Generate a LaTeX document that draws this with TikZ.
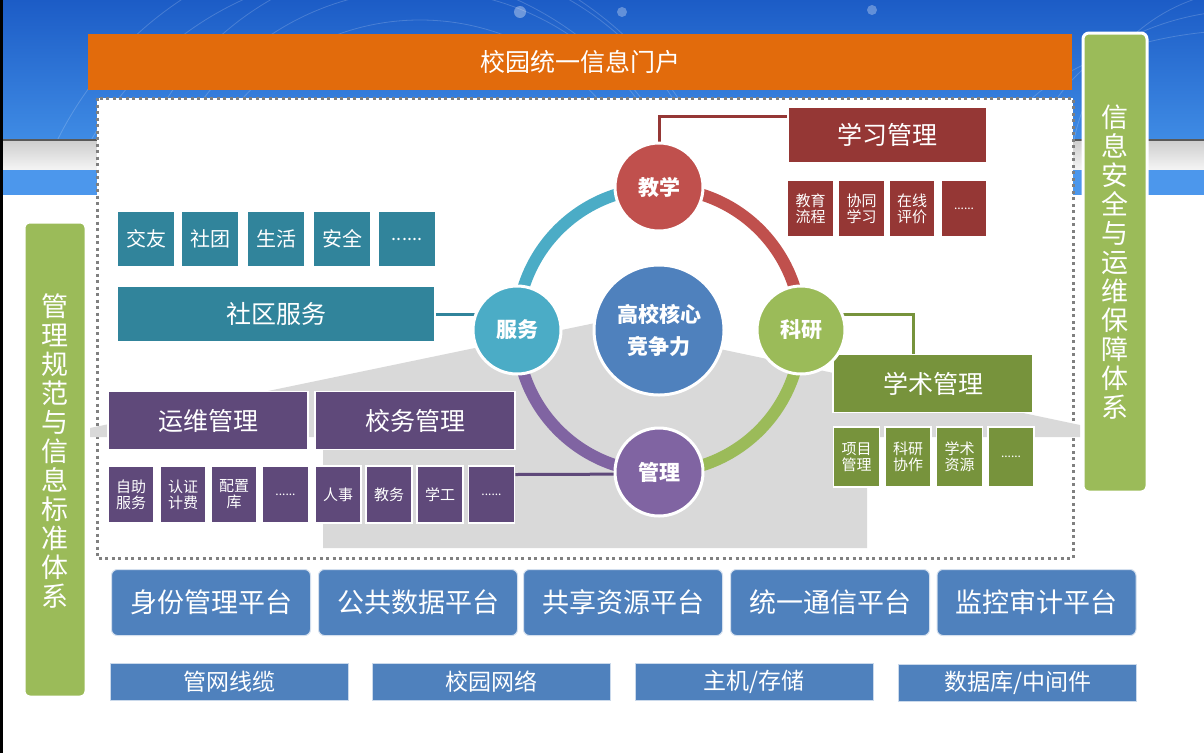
\documentclass[tikz,border=0pt]{standalone}
\usepackage{fontspec}
\setmainfont{Noto Sans CJK SC}
\usepackage{xcolor}
\definecolor{bgdark}{HTML}{1C5CC6}
\definecolor{bgmid}{HTML}{3F8BE4}
\definecolor{bglight}{HTML}{4C97EC}
\definecolor{portalorange}{HTML}{E26B0C}
\definecolor{sidegreen}{HTML}{9BBB59}
\definecolor{framegray}{HTML}{808080}
\definecolor{housegray}{HTML}{D9D9D9}
\definecolor{serviceteal}{HTML}{31849B}
\definecolor{managepurple}{HTML}{5F497A}
\definecolor{studyred}{HTML}{953735}
\definecolor{researchgreen}{HTML}{77933C}
\definecolor{platblue}{HTML}{4F81BD}
\definecolor{hubred}{HTML}{C0504D}
\definecolor{hubgreen}{HTML}{9BBB59}
\definecolor{hubpurple}{HTML}{8064A2}
\definecolor{hubteal}{HTML}{4BACC6}
\tikzset{
  portal/.style={fill=portalorange, text=white, minimum width=984pt, minimum height=56pt, inner sep=0pt, font=\fontsize{25}{30}\selectfont},
  sidebar/.style={fill=sidegreen, draw=white, line width=3pt, rounded corners=6pt, text=white, align=center, inner sep=0pt, font=\fontsize{27}{29}\selectfont},
  frame/.style={draw=framegray, fill=white, line width=3pt, dash pattern=on 3pt off 3.5pt},
  glow/.style={white, opacity=0.18, line width=0.8pt},
  tile/.style={draw=white, line width=1.5pt, text=white, inner sep=0pt, align=center},
  headtile/.style={tile, minimum width=200pt, minimum height=58pt, font=\fontsize{25}{30}\selectfont},
  smalltile/.style={tile, minimum width=46pt, minimum height=57pt, font=\fontsize{15}{16}\selectfont},
  hub/.style={circle, draw=white, line width=3pt, text=white, minimum size=88pt, inner sep=0pt, align=center, font=\bfseries\fontsize{21}{32}\selectfont},
  ring/.style={line width=12pt},
  link/.style={line width=3pt},
  platform/.style={fill=platblue, draw=white!75!platblue, line width=1pt, rounded corners=6pt, text=white, minimum width=199pt, minimum height=66pt, font=\fontsize{27}{30}\selectfont},
  base/.style={fill=platblue, draw=white!70!platblue, line width=1pt, text=white, minimum width=238pt, minimum height=37pt, font=\fontsize{23}{26}\selectfont}
}

\begin{document}
\begin{tikzpicture}[x=1pt, y=-1pt]
\useasboundingbox (0,0) rectangle (1204,753);
% background of the slide
\fill[white] (0,0) rectangle (1204,753);
\shade[top color=bgdark, bottom color=bgmid] (0,0) rectangle (1204,139);
\begin{scope}
\clip (0,0) rectangle (1204,139);
\draw[glow] (420,260) circle (240);
\draw[glow] (420,260) circle (270);
\draw[glow] (420,260) circle (300);
\draw[glow] (380,300) circle (330);
\draw[glow] (380,300) circle (360);
\draw[glow] (1250,180) ellipse (260 and 150);
\draw[glow] (1250,180) ellipse (220 and 170);
\draw[glow] (1250,180) ellipse (180 and 190);
\fill[white, opacity=0.35] (520,12) circle (6);
\fill[white, opacity=0.3] (872,10) circle (5);
\fill[white, opacity=0.3] (622,12) circle (5);
\end{scope}
\shade[top color=black!20, bottom color=white!96!black] (0,139) rectangle (1204,170);
\draw[black!65, line width=2pt] (0,140) -- (1204,140);
\fill[bglight] (0,170) rectangle (1204,195);
\fill[black] (0,0) rectangle (3,753);

\node[portal] (portal) at (580,62) {校园统一信息门户};
\node[sidebar, minimum width=64pt, minimum height=459pt] (security) at (1115,262.5) {信\\息\\安\\全\\与\\运\\维\\保\\障\\体\\系};
\node[sidebar, minimum width=62pt, minimum height=475pt] (norms) at (55,459.5) {管\\理\\规\\范\\与\\信\\息\\标\\准\\体\\系\\[-10pt]};

\draw[frame] (97,98) rectangle (1073,558);
\fill[housegray] (90,428) -- (600,322) -- (715,348) -- (1080,425) -- (1080,437) -- (867,437) -- (867,548) -- (323,548) -- (323,437) -- (90,437) -- cycle;

% ring round the core
\draw[ring, hubteal] (517,330) arc[start angle=180, end angle=90, radius=142pt];
\draw[ring, hubred] (659,188) arc[start angle=90, end angle=0, radius=142pt];
\draw[ring, hubgreen] (801,330) arc[start angle=0, end angle=-90, radius=142pt];
\draw[ring, hubpurple] (659,472) arc[start angle=-90, end angle=-180, radius=142pt];

% service side
\node[tile, fill=serviceteal, minimum width=57pt, minimum height=56pt, font=\fontsize{20}{24}\selectfont] (friend) at (146,239) {交友};
\node[tile, fill=serviceteal, minimum width=57pt, minimum height=56pt, font=\fontsize{20}{24}\selectfont] (club) at (210,239) {社团};
\node[tile, fill=serviceteal, minimum width=57pt, minimum height=56pt, font=\fontsize{20}{24}\selectfont] (life) at (276,239) {生活};
\node[tile, fill=serviceteal, minimum width=57pt, minimum height=56pt, font=\fontsize{20}{24}\selectfont] (safety) at (342,239) {安全};
\node[tile, fill=serviceteal, minimum width=57pt, minimum height=56pt, font=\fontsize{18}{24}\selectfont] (moreserv) at (407,239) {......};
\node[headtile, fill=serviceteal, minimum width=318pt, minimum height=56pt] (community) at (276,314) {社区服务};

% management side
\node[headtile, fill=managepurple] (ops) at (208,420.5) {运维管理};
\node[headtile, fill=managepurple] (affairs) at (415,420.5) {校务管理};
\node[smalltile, fill=managepurple] (selfserv) at (131,494.5) {自助\\服务};
\node[smalltile, fill=managepurple] (billing) at (183,494.5) {认证\\计费};
\node[smalltile, fill=managepurple] (config) at (234,494.5) {配置\\库};
\node[smalltile, fill=managepurple, font=\fontsize{12}{16}\selectfont] (moreops) at (285.5,494.5) {......};
\node[smalltile, fill=managepurple] (staff) at (338,494.5) {人事};
\node[smalltile, fill=managepurple] (teaching) at (389,494.5) {教务};
\node[smalltile, fill=managepurple] (student) at (440,494.5) {学工};
\node[smalltile, fill=managepurple, font=\fontsize{12}{16}\selectfont] (moreaff) at (491.5,494.5) {......};

% study side
\node[headtile, fill=studyred, minimum width=199pt, minimum height=56pt] (study) at (887.5,135) {学习管理};
\node[smalltile, fill=studyred] (flow) at (810.5,208.5) {教育\\流程};
\node[smalltile, fill=studyred] (coop) at (861.5,208.5) {协同\\学习};
\node[smalltile, fill=studyred] (online) at (912,208.5) {在线\\评价};
\node[smalltile, fill=studyred, font=\fontsize{12}{16}\selectfont] (morestudy) at (964,208.5) {......};

% research side
\node[headtile, fill=researchgreen] (academic) at (933,383.5) {学术管理};
\node[smalltile, fill=researchgreen, minimum height=60pt] (project) at (856.5,457) {项目\\管理};
\node[smalltile, fill=researchgreen, minimum height=60pt] (collab) at (908,457) {科研\\协作};
\node[smalltile, fill=researchgreen, minimum height=60pt] (resource) at (959.5,457) {学术\\资源};
\node[smalltile, fill=researchgreen, minimum height=60pt, font=\fontsize{12}{16}\selectfont] (moreres) at (1011,457) {......};

% hubs
\node[hub, fill=platblue, minimum size=130pt] (core) at (659,330) {高校核心\\竞争力};
\coordinate (jxtop) at (659,143);
\draw[link, studyred] (jxtop) |- ([yshift=-10pt]study.north west);
\draw[link, researchgreen] (801,314) -| ([xshift=-20pt]academic.north);
\draw[link, serviceteal] (community.east) -- (517,314);
\draw[link, managepurple] ([yshift=20pt]moreaff.east) -- (659,474);
\node[hub, fill=hubred] (jx) at (659,187) {教学};
\node[hub, fill=hubgreen] (ky) at (801,330) {科研};
\node[hub, fill=hubpurple] (gl) at (659,472) {管理};
\node[hub, fill=hubteal] (fw) at (517,330) {服务};

% platforms
\node[platform] (identity) at (211,602.5) {身份管理平台};
\node[platform] (publicdata) at (418,602.5) {公共数据平台};
\node[platform] (shared) at (623,602.5) {共享资源平台};
\node[platform] (comm) at (830,602.5) {统一通信平台};
\node[platform] (audit) at (1036.5,602.5) {监控审计平台};

\node[base] (cable) at (229.5,681.5) {管网线缆};
\node[base] (network) at (491.5,681.5) {校园网络};
\node[base] (host) at (754,681.5) {主机/存储};
\node[base] (database) at (1017.5,682.5) {数据库/中间件};
\end{tikzpicture}
\end{document}
